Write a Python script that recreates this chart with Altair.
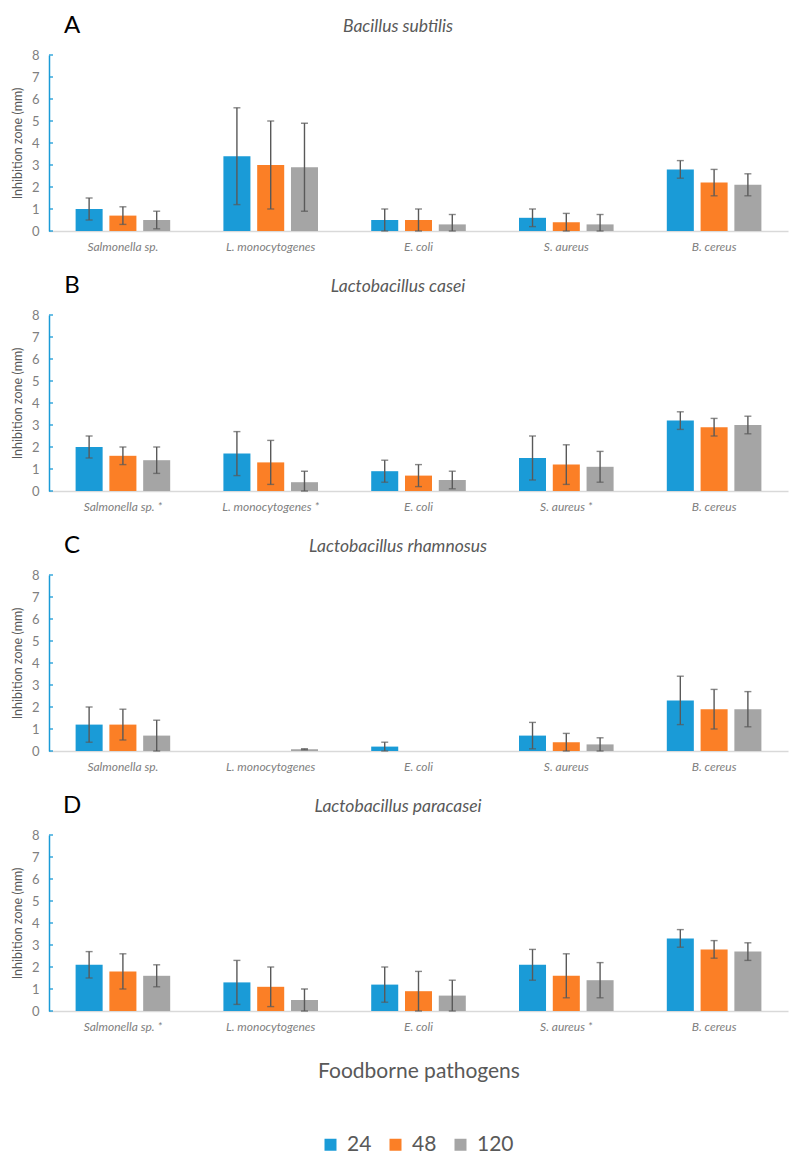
import altair as alt
import pandas as pd

times = ["24", "48", "120"]
bar_colors = ["#1A9BD7", "#FB7F26", "#A5A5A5"]
y_ticks = [0, 1, 2, 3, 4, 5, 6, 7, 8]

panel_letters = ["A", "B", "C", "D"]
panel_titles = ["Bacillus subtilis", "Lactobacillus casei",
                "Lactobacillus rhamnosus", "Lactobacillus paracasei"]

labels_a = ["Salmonella sp.", "L. monocytogenes", "E. coli", "S. aureus", "B. cereus"]
labels_b = ["Salmonella sp. *", "L. monocytogenes *", "E. coli", "S. aureus *", "B. cereus"]
labels_c = ["Salmonella sp.", "L. monocytogenes", "E. coli", "S. aureus", "B. cereus"]
labels_d = ["Salmonella sp. *", "L. monocytogenes", "E. coli", "S. aureus *", "B. cereus"]

# Panel A - Bacillus subtilis
a_24 = [1.0, 3.4, 0.5, 0.6, 2.8]
a_48 = [0.7, 3.0, 0.5, 0.4, 2.2]
a_120 = [0.5, 2.9, 0.3, 0.3, 2.1]
a_24_sd = [0.5, 2.2, 0.5, 0.4, 0.4]
a_48_sd = [0.4, 2.0, 0.5, 0.4, 0.6]
a_120_sd = [0.4, 2.0, 0.45, 0.45, 0.5]

# Panel B - Lactobacillus casei
b_24 = [2.0, 1.7, 0.9, 1.5, 3.2]
b_48 = [1.6, 1.3, 0.7, 1.2, 2.9]
b_120 = [1.4, 0.4, 0.5, 1.1, 3.0]
b_24_sd = [0.5, 1.0, 0.5, 1.0, 0.4]
b_48_sd = [0.4, 1.0, 0.5, 0.9, 0.4]
b_120_sd = [0.6, 0.5, 0.4, 0.7, 0.4]

# Panel C - Lactobacillus rhamnosus
c_24 = [1.2, 0.0, 0.2, 0.7, 2.3]
c_48 = [1.2, 0.0, 0.0, 0.4, 1.9]
c_120 = [0.7, 0.08, 0.0, 0.3, 1.9]
c_24_sd = [0.8, 0.0, 0.2, 0.6, 1.1]
c_48_sd = [0.7, 0.0, 0.0, 0.4, 0.9]
c_120_sd = [0.7, 0.02, 0.0, 0.3, 0.8]

# Panel D - Lactobacillus paracasei
d_24 = [2.1, 1.3, 1.2, 2.1, 3.3]
d_48 = [1.8, 1.1, 0.9, 1.6, 2.8]
d_120 = [1.6, 0.5, 0.7, 1.4, 2.7]
d_24_sd = [0.6, 1.0, 0.8, 0.7, 0.4]
d_48_sd = [0.8, 0.9, 0.9, 1.0, 0.4]
d_120_sd = [0.5, 0.5, 0.7, 0.8, 0.4]

panels_data = [
    (labels_a, [a_24, a_48, a_120], [a_24_sd, a_48_sd, a_120_sd]),
    (labels_b, [b_24, b_48, b_120], [b_24_sd, b_48_sd, b_120_sd]),
    (labels_c, [c_24, c_48, c_120], [c_24_sd, c_48_sd, c_120_sd]),
    (labels_d, [d_24, d_48, d_120], [d_24_sd, d_48_sd, d_120_sd]),
]

AXIS_BLUE = "#1A9BD7"
ERR = "#595959"
FONT = "Lato"
W, H = 739, 176


def y_axis():
    return alt.Axis(values=y_ticks, labelOverlap=False, ticks=False,
                    domainColor=AXIS_BLUE, domainWidth=1.5,
                    labelColor="#808080", labelFontSize=13, labelPadding=10,
                    titleColor="#595959", titleFontSize=12.5,
                    titleFontWeight="normal", titlePadding=7)


def make_panel(idx):
    labels, means, sds = panels_data[idx]
    rows = []
    for ti, t in enumerate(times):
        for i, lab in enumerate(labels):
            m = means[ti][i]
            s = sds[ti][i]
            rows.append({"pathogen": lab, "time": t, "mean": m, "sd": s,
                         "lo": max(0.0, m - s), "hi": m + s})
    df = pd.DataFrame(rows)
    last = idx == 3
    xtitle = "Foodborne pathogens" if last else None
    x = alt.X("pathogen:N", sort=labels, title=xtitle,
              scale=alt.Scale(paddingInner=0.36, paddingOuter=0.18))
    xo = alt.XOffset("time:N", sort=times, scale=alt.Scale(paddingInner=0.2))
    yscale = alt.Scale(domain=[0, 8], nice=False)
    ytitle = "Inhibition zone (mm)"

    if last:
        legend = alt.Legend(title=None, orient="none", legendX=271, legendY=299,
                            direction="horizontal", symbolType="square",
                            symbolSize=144, symbolStrokeWidth=0,
                            labelFontSize=21, labelColor="#595959", labelFont=FONT,
                            columnPadding=13, labelOffset=6, padding=0)
    else:
        legend = None

    base = alt.Chart(df)
    bars = base.mark_bar().encode(
        x=x, xOffset=xo,
        y=alt.Y("mean:Q", scale=yscale, title=ytitle, axis=y_axis()),
        color=alt.Color("time:N", sort=times,
                        scale=alt.Scale(domain=times, range=bar_colors),
                        legend=legend),
    )
    err = base.transform_filter("datum.sd > 0")
    rules = err.mark_rule(color=ERR, strokeWidth=1.4).encode(
        x=x, xOffset=xo,
        y=alt.Y("lo:Q", scale=yscale, title=ytitle, axis=y_axis()), y2="hi:Q")
    cap_hi = err.mark_tick(color=ERR, size=7, thickness=1.4).encode(
        x=x, xOffset=xo, y=alt.Y("hi:Q", scale=yscale, title=ytitle, axis=y_axis()))
    cap_lo = err.mark_tick(color=ERR, size=7, thickness=1.4).encode(
        x=x, xOffset=xo, y=alt.Y("lo:Q", scale=yscale, title=ytitle, axis=y_axis()))

    tick_df = pd.DataFrame({"v": y_ticks})
    inner_ticks = alt.Chart(tick_df).mark_rule(color=AXIS_BLUE, strokeWidth=1.3).encode(
        x=alt.value(0), x2=alt.value(4),
        y=alt.Y("v:Q", scale=yscale, title=ytitle, axis=y_axis()))

    txt_df = pd.DataFrame({"letter": [panel_letters[idx]], "species": [panel_titles[idx]]})
    letter = alt.Chart(txt_df).mark_text(
        font=FONT, fontSize=24, color="#000000", align="center", baseline="middle"
    ).encode(text="letter:N", x=alt.value(23), y=alt.value(-29))
    species = alt.Chart(txt_df).mark_text(
        font=FONT, fontSize=17.5, fontStyle="italic", color="#595959",
        align="center", baseline="middle"
    ).encode(text="species:N", x=alt.value(349), y=alt.value(-28))

    return alt.layer(bars, rules, cap_hi, cap_lo, inner_ticks, letter, species).properties(
        width=W, height=H)


panels = [make_panel(i) for i in range(4)]

chart = alt.vconcat(*panels, spacing=22).resolve_legend(
    color="independent"
).properties(
    padding={"left": 3, "top": 6, "right": 2, "bottom": 2}
).configure_view(
    stroke=None
).configure_axis(
    grid=False, labelFont=FONT, titleFont=FONT
).configure_axisX(
    domainColor="#D9D9D9", domainWidth=1.5, ticks=False, labelAngle=0,
    labelFontStyle="italic", labelFontSize=12, labelColor="#808080", labelPadding=10,
    titleFontSize=21, titleColor="#595959", titleFontWeight="normal", titlePadding=28
)

chart.save("out.html", embed_options={"renderer": "svg", "actions": False})
